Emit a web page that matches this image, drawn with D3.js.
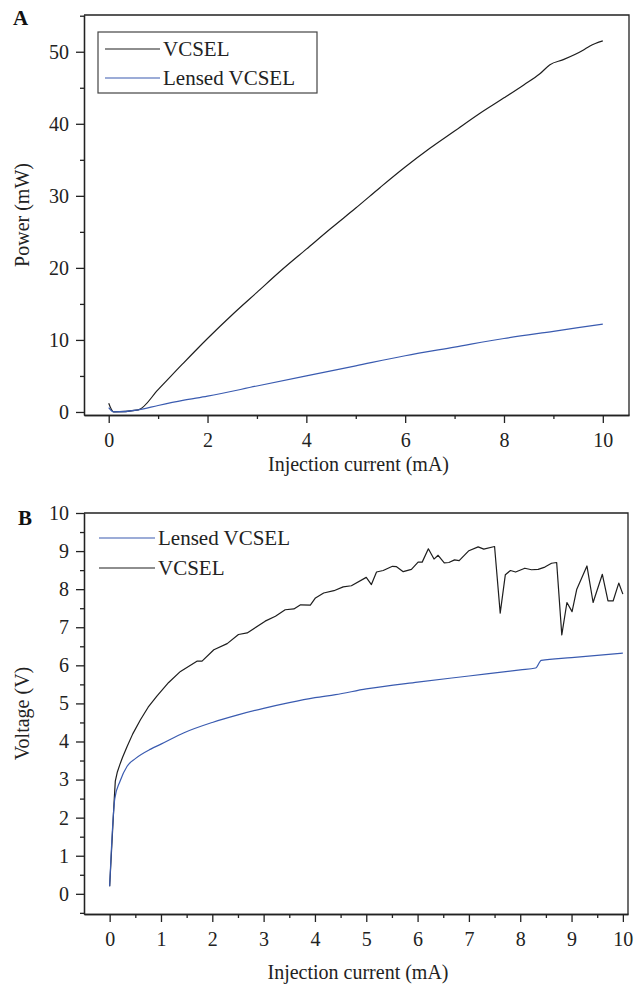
<!DOCTYPE html>
<html>
<head>
<meta charset="utf-8">
<script src="https://cdn.jsdelivr.net/npm/d3@7"></script>
<style>
  body { margin: 0; background: #fff; }
  svg { display: block; font-family: "Liberation Serif", "Times New Roman", serif; }
  .axis path, .axis line { stroke: #222; stroke-width: 1.3; }
  .axis text { font-size: 20px; fill: #222; font-family: "Liberation Serif", serif; }
</style>
</head>
<body>
<svg id="chart" width="642" height="986"></svg>
<script>
document.addEventListener("DOMContentLoaded", function() {

    // ---- Data (panel A: power vs current) ----
    const currentVcselA = [0, 0.1, 0.6, 1, 1.5, 2, 2.5, 3, 3.5, 4, 4.5, 5, 5.5, 6, 6.5, 7, 7.5, 8, 8.4, 8.72, 8.93, 9.2, 9.6, 9.74, 10];
    const powerVcselA   = [1.2, 0, 0.3, 3.1, 6.7, 10.2, 13.5, 16.6, 19.7, 22.6, 25.5, 28.3, 31.2, 34.0, 36.6, 39.0, 41.4, 43.6, 45.4, 46.9, 48.2, 48.9, 50.2, 50.8, 51.5];
    const currentLensA  = [0, 0.1, 0.6, 1, 1.5, 2, 3, 4, 5, 6, 7, 8, 9, 10];
    const powerLensA    = [0.6, 0, 0.3, 0.9, 1.6, 2.2, 3.6, 5.0, 6.4, 7.8, 9.0, 10.2, 11.2, 12.2];

    // ---- Data (panel B: voltage vs current) ----
    const currentLensB  = [0, 0.1, 0.2, 0.34, 0.5, 0.8, 1, 1.45, 2, 2.5, 3, 3.5, 4, 4.4, 5, 6, 7, 8, 8.3, 8.41, 9, 10];
    const voltageLensB  = [0.2, 2.5, 2.95, 3.35, 3.55, 3.8, 3.93, 4.23, 4.5, 4.7, 4.87, 5.02, 5.15, 5.23, 5.38, 5.56, 5.72, 5.88, 5.93, 6.13, 6.2, 6.32];
    const currentVcselB = [0, 0.09, 0.11, 0.15, 0.2, 0.25, 0.34, 0.45, 0.6, 0.75, 0.92, 1.15, 1.38, 1.7, 1.8, 2.03, 2.29, 2.51, 2.68, 3.03, 3.23, 3.42, 3.59, 3.72, 3.91, 4.01, 4.17, 4.37, 4.55, 4.71, 5.0, 5.1, 5.2, 5.33, 5.51, 5.59, 5.72, 5.88, 6.01, 6.09, 6.21, 6.32, 6.4, 6.52, 6.61, 6.72, 6.81, 7.0, 7.18, 7.29, 7.5, 7.61, 7.71, 7.81, 7.91, 8.09, 8.22, 8.35, 8.48, 8.61, 8.71, 8.81, 8.91, 9.01, 9.1, 9.3, 9.42, 9.6, 9.71, 9.81, 9.92, 10.0];
    const voltageVcselB = [0.2, 2.5, 2.96, 3.2, 3.4, 3.58, 3.87, 4.2, 4.57, 4.9, 5.19, 5.55, 5.84, 6.11, 6.11, 6.41, 6.57, 6.81, 6.85, 7.16, 7.29, 7.46, 7.48, 7.59, 7.58, 7.77, 7.9, 7.96, 8.06, 8.09, 8.31, 8.12, 8.45, 8.49, 8.6, 8.59, 8.46, 8.52, 8.71, 8.71, 9.06, 8.79, 8.89, 8.69, 8.7, 8.77, 8.75, 9.01, 9.11, 9.05, 9.12, 7.37, 8.38, 8.49, 8.45, 8.55, 8.51, 8.52, 8.58, 8.68, 8.7, 6.8, 7.65, 7.41, 7.99, 8.61, 7.65, 8.39, 7.69, 7.69, 8.16, 7.87];

    // ---- Tick labels ----
    const xTicksA = [0, 2, 4, 6, 8, 10];
    const xMinorA = [1, 3, 5, 7, 9];
    const yTicksA = [0, 10, 20, 30, 40, 50];
    const yMinorA = [5, 15, 25, 35, 45, 55];
    const xTicksB = [0, 1, 2, 3, 4, 5, 6, 7, 8, 9, 10];
    const xMinorB = [0.5, 1.5, 2.5, 3.5, 4.5, 5.5, 6.5, 7.5, 8.5, 9.5];
    const yTicksB = [0, 1, 2, 3, 4, 5, 6, 7, 8, 9, 10];
    const yMinorB = [-0.5, 0.5, 1.5, 2.5, 3.5, 4.5, 5.5, 6.5, 7.5, 8.5, 9.5];

    const svg = d3.select("#chart");
    const black = "#1e1e1e";
    const blue = "#3a5bb0";

    const toPts = (xs, ys) => xs.map((v, i) => ({x: v, y: ys[i]}));

    function panel(cfg) {
        const x = d3.scaleLinear().domain(cfg.xDomain).range([cfg.left, cfg.right]);
        const y = d3.scaleLinear().domain(cfg.yDomain).range([cfg.bottom, cfg.top]);
        const g = svg.append("g");

        // frame (top and right)
        g.append("path")
            .attr("d", `M${cfg.left},${cfg.top}H${cfg.right}V${cfg.bottom}`)
            .attr("fill", "none").attr("stroke", "#222").attr("stroke-width", 1.3);

        // minor ticks
        g.append("g").attr("class", "axis")
            .attr("transform", `translate(0,${cfg.bottom})`)
            .call(d3.axisBottom(x).tickValues(cfg.xMinor).tickSize(4).tickSizeOuter(0).tickFormat(""));
        g.append("g").attr("class", "axis")
            .attr("transform", `translate(${cfg.left},0)`)
            .call(d3.axisLeft(y).tickValues(cfg.yMinor.filter(v => v >= cfg.yDomain[0] && v <= cfg.yDomain[1])).tickSize(4).tickSizeOuter(0).tickFormat(""));

        // major ticks
        g.append("g").attr("class", "axis")
            .attr("transform", `translate(0,${cfg.bottom})`)
            .call(d3.axisBottom(x).tickValues(cfg.xTicks).tickSize(8).tickSizeOuter(0).tickPadding(6))
            .selectAll("text").attr("dy", "0.9em");
        g.append("g").attr("class", "axis")
            .attr("transform", `translate(${cfg.left},0)`)
            .call(d3.axisLeft(y).tickValues(cfg.yTicks).tickSize(8).tickSizeOuter(0).tickPadding(7));

        cfg.series.forEach(s => {
            const line = d3.line().x(d => x(d.x)).y(d => y(d.y))
                .curve(s.smooth ? d3.curveMonotoneX : d3.curveLinear);
            g.append("path")
                .datum(toPts(s.xs, s.ys))
                .attr("fill", "none")
                .attr("stroke", s.color)
                .attr("stroke-width", 1.2)
                .attr("stroke-linejoin", "round")
                .attr("d", line);
        });

        // axis titles
        g.append("text")
            .attr("x", (cfg.left + cfg.right) / 2 + 2)
            .attr("y", cfg.xLabelY)
            .attr("text-anchor", "middle")
            .style("font-size", "20px").attr("fill", "#222")
            .text(cfg.xLabel);
        g.append("text")
            .attr("transform", `translate(29,${(cfg.top + cfg.bottom) / 2}) rotate(-90)`)
            .attr("text-anchor", "middle")
            .style("font-size", "20px").attr("fill", "#222")
            .text(cfg.yLabel);

        // panel letter
        g.append("text")
            .attr("x", cfg.letterX).attr("y", cfg.letterY)
            .style("font-size", "21px").style("font-weight", "bold").attr("fill", "#111")
            .text(cfg.letter);

        // legend
        const lg = g.append("g");
        if (cfg.legendBox) {
            const b = cfg.legendBox;
            lg.append("rect").attr("x", b[0]).attr("y", b[1]).attr("width", b[2]).attr("height", b[3])
                .attr("fill", "#fff").attr("stroke", "#444").attr("stroke-width", 1.2);
        }
        cfg.legend.forEach((it, i) => {
            const ly = cfg.legendY[i];
            lg.append("line")
                .attr("x1", cfg.legendX[0]).attr("x2", cfg.legendX[1])
                .attr("y1", ly).attr("y2", ly)
                .attr("stroke", it.color).attr("stroke-width", 1.2);
            lg.append("text")
                .attr("x", cfg.legendX[1] + 3).attr("y", ly + 7)
                .style("font-size", "21px").attr("fill", "#222")
                .text(it.name);
        });
    }

    panel({
        left: 84, right: 629, top: 15, bottom: 415,
        xDomain: [-0.5, 10.53], yDomain: [-0.42, 55.1],
        xTicks: xTicksA, xMinor: xMinorA, yTicks: yTicksA, yMinor: yMinorA,
        series: [
            {xs: currentVcselA, ys: powerVcselA, color: black, smooth: true},
            {xs: currentLensA, ys: powerLensA, color: blue, smooth: true}
        ],
        xLabel: "Injection current (mA)", xLabelY: 471,
        yLabel: "Power (mW)",
        letter: "A", letterX: 13, letterY: 25,
        legendBox: [98, 32, 219, 61],
        legendX: [105, 160], legendY: [49, 78],
        legend: [{name: "VCSEL", color: black}, {name: "Lensed VCSEL", color: blue}]
    });

    panel({
        left: 84, right: 628, top: 513, bottom: 914,
        xDomain: [-0.5, 10.1], yDomain: [-0.53, 10],
        xTicks: xTicksB, xMinor: xMinorB, yTicks: yTicksB, yMinor: yMinorB,
        series: [
            {xs: currentVcselB, ys: voltageVcselB, color: black, smooth: false},
            {xs: currentLensB, ys: voltageLensB, color: blue, smooth: true}
        ],
        xLabel: "Injection current (mA)", xLabelY: 979,
        yLabel: "Voltage (V)",
        letter: "B", letterX: 18, letterY: 525,
        legendBox: null,
        legendX: [99, 155], legendY: [538, 568],
        legend: [{name: "Lensed VCSEL", color: blue}, {name: "VCSEL", color: black}]
    });

});
</script>
</body>
</html>
